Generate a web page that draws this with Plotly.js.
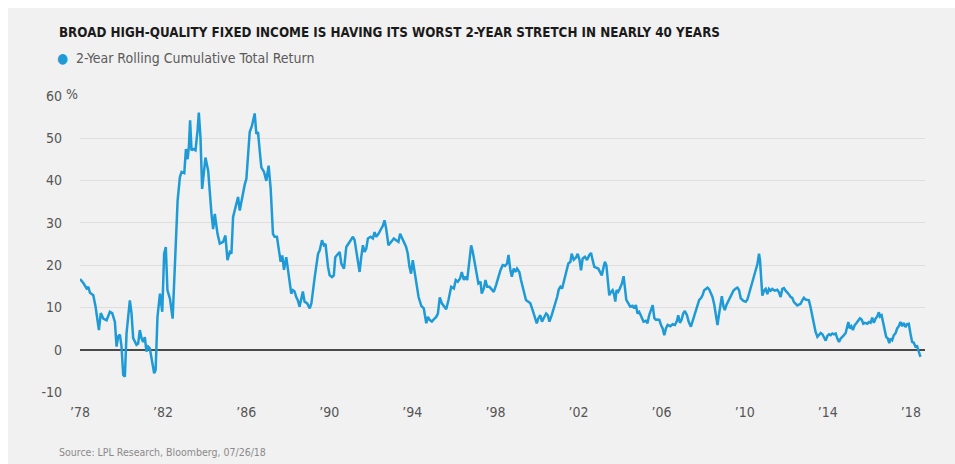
<!DOCTYPE html>
<html>
<head>
<meta charset="utf-8">
<script src="https://cdn.plot.ly/plotly-3.0.1.min.js"></script>
<style>
  html, body { margin: 0; padding: 0; background: #ffffff; }
  #chart { position: absolute; left: 8px; top: 8px; width: 947px; height: 456px; }
</style>
</head>
<body>
<div id="chart"></div>
<script>
// ---- Data ----
var years = [
  1978.00,1978.16,1978.32,1978.40,1978.48,1978.64,1978.75,1978.91,1979.00,1979.12,1979.28,1979.44,1979.55,1979.68,1979.76,1979.84,1979.92,
  1980.00,1980.08,1980.16,1980.24,1980.40,1980.48,1980.56,1980.72,1980.80,1980.88,1980.96,1981.04,1981.12,1981.20,1981.28,1981.36,1981.48,1981.57,1981.64,1981.73,1981.85,1981.96,
  1982.05,1982.13,1982.21,1982.33,1982.46,1982.57,1982.70,1982.81,1982.89,1983.02,1983.10,1983.18,1983.24,1983.30,1983.37,1983.46,1983.56,1983.66,1983.72,1983.80,1983.88,
  1984.04,1984.17,1984.33,1984.41,1984.49,1984.62,1984.73,1984.89,1985.00,1985.10,1985.21,1985.29,1985.37,1985.53,1985.61,1985.69,1985.80,1985.93,
  1986.01,1986.09,1986.17,1986.28,1986.41,1986.49,1986.57,1986.65,1986.73,1986.86,1986.97,1987.08,1987.18,1987.29,1987.37,1987.48,1987.56,1987.66,1987.74,1987.82,1987.93,
  1988.01,1988.09,1988.17,1988.25,1988.33,1988.41,1988.49,1988.57,1988.65,1988.73,1988.81,1988.94,1989.06,1989.14,1989.30,1989.46,1989.54,1989.65,1989.74,1989.82,1989.94,
  1990.02,1990.13,1990.22,1990.29,1990.42,1990.50,1990.58,1990.71,1990.82,1990.93,1991.06,1991.14,1991.22,1991.30,1991.38,1991.46,1991.54,1991.62,1991.70,1991.78,1991.86,1991.99,
  1992.10,1992.18,1992.26,1992.37,1992.50,1992.58,1992.66,1992.74,1992.85,1992.98,1993.11,1993.22,1993.33,1993.41,1993.49,1993.59,1993.70,1993.78,1993.86,1993.94,
  1994.02,1994.18,1994.30,1994.43,1994.55,1994.67,1994.75,1994.83,1994.94,1995.03,1995.15,1995.23,1995.32,1995.42,1995.52,1995.63,1995.74,1995.87,
  1996.00,1996.09,1996.19,1996.30,1996.38,1996.48,1996.56,1996.64,1996.75,1996.83,1996.91,1997.02,1997.12,1997.18,1997.28,1997.34,1997.44,1997.52,1997.60,1997.71,1997.82,1997.92,
  1998.03,1998.14,1998.24,1998.35,1998.46,1998.56,1998.63,1998.72,1998.79,1998.88,1998.96,1999.04,1999.15,1999.23,1999.36,1999.47,1999.58,1999.68,1999.79,1999.91,1999.99,
  2000.07,2000.16,2000.24,2000.32,2000.44,2000.52,2000.60,2000.71,2000.84,2000.97,2001.05,2001.13,2001.21,2001.29,2001.40,2001.51,2001.61,2001.67,2001.77,2001.88,2001.96,
  2002.05,2002.12,2002.20,2002.31,2002.41,2002.52,2002.60,2002.68,2002.76,2002.95,2003.05,2003.12,2003.21,2003.27,2003.34,2003.40,2003.48,2003.56,2003.64,2003.72,2003.77,2003.83,2003.91,2003.99,
  2004.09,2004.17,2004.23,2004.30,2004.40,2004.49,2004.60,2004.68,2004.76,2004.84,2004.92,2005.04,2005.13,2005.24,2005.32,2005.40,2005.49,2005.57,2005.65,2005.73,2005.81,2005.89,2005.97,
  2006.05,2006.13,2006.21,2006.29,2006.42,2006.53,2006.64,2006.74,2006.80,2006.88,2006.96,2007.04,2007.12,2007.22,2007.30,2007.41,2007.49,2007.57,2007.65,2007.73,2007.81,2007.89,2007.97,
  2008.05,2008.13,2008.21,2008.29,2008.37,2008.45,2008.53,2008.61,2008.69,2008.77,2008.85,2008.90,2008.98,2009.04,2009.12,2009.20,2009.28,2009.36,2009.46,2009.57,2009.65,2009.73,2009.81,2009.94,
  2010.05,2010.13,2010.21,2010.29,2010.37,2010.45,2010.53,2010.61,2010.69,2010.74,2010.80,2010.85,2010.93,2011.01,2011.09,2011.17,2011.25,2011.33,2011.44,2011.57,2011.65,2011.73,2011.81,2011.89,2011.97,
  2012.05,2012.13,2012.21,2012.29,2012.37,2012.45,2012.53,2012.61,2012.69,2012.77,2012.85,2012.93,2013.01,2013.09,2013.17,2013.25,2013.33,2013.41,2013.50,2013.58,2013.66,2013.74,2013.82,2013.90,2013.98,
  2014.06,2014.14,2014.22,2014.30,2014.38,2014.46,2014.54,2014.62,2014.70,2014.78,2014.86,2014.94,2014.99,2015.05,2015.13,2015.21,2015.29,2015.39,2015.47,2015.55,2015.63,2015.71,2015.79,2015.90,2015.98,
  2016.06,2016.14,2016.22,2016.30,2016.38,2016.46,2016.51,2016.59,2016.67,2016.73,2016.81,2016.89,2016.96,2017.02,2017.10,2017.18,2017.26,2017.34,2017.42,2017.50,2017.58,2017.66,2017.74,2017.82,2017.90,2017.98,
  2018.06,2018.14,2018.22,2018.30,2018.38,2018.46
];
var returns = [
  16.7,15.8,14.5,14.9,13.5,12.9,10.2,4.7,8.7,7.4,7.0,9.0,8.7,6.6,0.8,3.2,3.6,
  0.8,-5.9,-6.3,3.9,11.7,8.7,2.8,1.2,1.5,4.7,2.8,1.9,3.0,-0.4,0.8,0.4,-3.2,-5.5,-4.7,7.8,13.3,9.0,
  22.7,24.3,14.1,12.1,7.4,20.4,35.3,40.8,42.0,41.7,47.4,45.0,47.8,54.2,47.1,47.4,47.1,51.8,56.0,50.1,38.0,
  45.4,42.3,32.1,28.5,32.1,27.4,25.1,25.5,27.0,21.2,23.1,22.7,31.4,34.4,36.1,32.9,36.1,39.0,
  40.4,46.3,51.4,52.9,55.8,51.0,51.4,47.1,43.1,42.0,39.9,43.5,38.0,27.4,26.7,26.7,23.5,20.8,22.3,18.9,21.9,
  18.9,16.5,13.3,14.1,13.8,12.5,11.7,10.2,12.5,13.8,11.4,11.0,9.8,11.0,17.2,22.7,23.5,25.9,24.7,25.0,19.6,
  17.6,17.2,17.6,21.9,22.7,23.1,20.4,19.2,24.3,25.1,26.3,26.7,25.9,23.5,20.4,18.4,21.9,24.7,23.1,23.9,26.3,26.7,
  26.3,27.8,26.7,27.4,28.6,29.3,30.6,28.6,24.7,25.5,26.3,25.9,25.5,27.4,26.7,25.5,24.3,22.7,19.6,18.0,
  21.2,16.5,12.5,10.4,9.8,6.3,7.8,7.1,6.7,7.2,7.8,8.6,12.4,11.0,10.2,9.6,11.8,14.9,
  14.5,16.5,16.1,16.9,18.4,16.5,17.3,16.5,21.2,24.7,23.1,20.4,18.0,15.7,16.1,13.3,14.5,16.5,14.9,14.9,14.3,13.7,
  15.3,17.3,18.8,20.0,19.8,20.4,22.4,18.8,17.3,19.2,18.4,19.2,18.4,16.5,14.1,11.8,11.4,11.0,9.4,7.5,6.3,
  7.5,8.2,6.7,7.5,8.6,8.2,6.7,8.2,10.2,12.5,14.3,14.9,14.5,16.1,18.8,20.4,20.8,22.7,21.3,21.8,22.7,
  21.2,18.8,21.6,22.0,21.2,22.4,22.9,21.2,19.6,19.2,18.0,17.6,19.6,20.8,20.0,16.5,12.9,13.7,14.1,12.9,11.4,14.1,13.7,14.5,
  15.7,17.4,14.5,11.8,11.0,10.2,10.4,9.8,10.6,8.6,9.0,7.8,6.7,6.9,6.3,8.2,9.4,10.6,7.5,7.1,7.2,7.1,5.9,
  5.1,3.5,5.1,5.9,5.6,6.1,5.9,6.9,8.2,6.4,7.1,8.6,9.2,8.2,6.7,5.5,6.7,7.8,9.0,10.6,11.8,12.2,12.9,
  14.1,14.5,14.7,14.3,13.2,12.5,10.8,8.2,5.9,8.6,11.4,12.7,10.2,9.4,10.6,11.4,11.9,12.9,14.0,14.5,14.7,14.1,12.2,11.6,
  11.4,11.9,13.3,14.9,16.5,17.3,18.8,20.2,22.7,21.0,16.3,12.8,14.0,14.4,13.2,14.4,14.0,14.4,14.0,14.2,13.6,12.5,14.4,14.6,14.0,
  13.6,13.1,12.5,12.3,11.3,10.9,10.5,10.7,10.9,11.7,12.3,11.9,11.8,11.7,10.1,8.2,6.2,4.3,3.1,3.5,4.0,3.7,3.1,2.2,3.3,
  3.7,3.5,3.9,3.7,3.9,2.7,1.9,2.7,3.0,3.5,4.0,5.8,6.6,5.1,5.6,4.7,5.8,6.4,7.0,7.5,7.2,6.2,6.4,6.2,6.6,
  6.4,7.6,6.4,7.4,7.9,8.9,7.9,8.2,6.6,5.1,3.1,2.7,1.6,2.7,2.3,3.5,3.9,5.1,5.6,6.6,5.6,6.4,5.4,6.1,6.2,3.9,
  1.9,1.7,0.8,0.9,-0.4,-1.6
];
var xTickVals = [1978, 1982, 1986, 1990, 1994, 1998, 2002, 2006, 2010, 2014, 2018];
var xTickText = ["\u201978", "\u201982", "\u201986", "\u201990", "\u201994", "\u201998", "\u201902", "\u201906", "\u201910", "\u201914", "\u201918"];
var yTickVals = [-10, 0, 10, 20, 30, 40, 50, 60];
var yTickText = ["-10", "0", "10", "20", "30", "40", "50", "60"];

var titleText = "BROAD HIGH-QUALITY FIXED INCOME IS HAVING ITS WORST 2-YEAR STRETCH IN NEARLY 40 YEARS";
var seriesName = "2-Year Rolling Cumulative Total Return";
var sourceText = "Source: LPL Research, Bloomberg, 07/26/18";

// ---- Styling ----
var BLUE = "#1e9bd7";
var BG = "#f1f1f1";
var NARROW = "'DejaVu Sans Condensed', 'Liberation Sans', sans-serif";

var trace = {
  x: years,
  y: returns,
  type: "scatter",
  mode: "lines",
  name: seriesName,
  line: { color: BLUE, width: 2.5, shape: "linear" },
  hoverinfo: "x+y"
};

var layout = {
  width: 947,
  height: 456,
  paper_bgcolor: BG,
  plot_bgcolor: BG,
  showlegend: false,
  margin: { l: 72, r: 30, t: 87, b: 71 },
  xaxis: {
    range: [1978.0, 2018.68],
    tickmode: "array",
    tickvals: xTickVals,
    ticktext: xTickText,
    showgrid: false,
    zeroline: false,
    showline: false,
    ticks: "",
    ticklabelstandoff: 9,
    tickfont: { family: NARROW, size: 14, color: "#555555" }
  },
  yaxis: {
    range: [-10.15, 60.15],
    tickmode: "array",
    tickvals: yTickVals,
    ticktext: yTickText,
    showgrid: true,
    gridcolor: "#dedede",
    gridwidth: 1,
    zeroline: true,
    zerolinecolor: "#4a4a4a",
    zerolinewidth: 1.6,
    showline: false,
    ticks: "",
    ticklabelstandoff: 17,
    tickfont: { family: NARROW, size: 14, color: "#555555" }
  },
  annotations: [
    {
      xref: "paper", yref: "paper", x: -0.0272, y: 1.211,
      xanchor: "left", yanchor: "middle", showarrow: false,
      text: "<b>" + titleText + "</b>",
      font: { family: NARROW, size: 13.3, color: "#1a1a1a" }
    },
    {
      xref: "paper", yref: "paper", x: -0.0290, y: 1.124,
      xanchor: "left", yanchor: "middle", showarrow: false,
      text: "<span style=\"color:" + BLUE + "\">\u25CF</span>  " + seriesName,
      font: { family: NARROW, size: 14, color: "#5a5a5a" }
    },
    {
      xref: "paper", yref: "paper", x: -0.0195, y: 1.003,
      xanchor: "left", yanchor: "middle", showarrow: false,
      text: "%",
      font: { family: NARROW, size: 14, color: "#555555" }
    },
    {
      xref: "paper", yref: "paper", x: -0.0272, y: -0.198,
      xanchor: "left", yanchor: "middle", showarrow: false,
      text: sourceText,
      font: { family: NARROW, size: 10.5, color: "#8a8a8a" }
    }
  ]
};

Plotly.newPlot("chart", [trace], layout, { displayModeBar: false, staticPlot: true });
</script>
</body>
</html>
